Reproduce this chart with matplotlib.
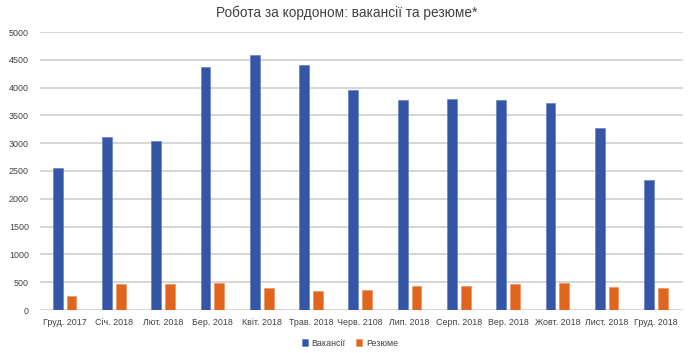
import matplotlib
matplotlib.use("Agg")
import matplotlib.pyplot as plt
import numpy as np

categories = ["Груд. 2017", "Січ. 2018", "Лют. 2018", "Бер. 2018", "Квіт. 2018", "Трав. 2018",
              "Черв. 2108", "Лип. 2018", "Серп. 2018", "Вер. 2018", "Жовт. 2018", "Лист. 2018", "Груд. 2018"]
vacancies = [2560, 3120, 3040, 4370, 4590, 4410, 3950, 3770, 3800, 3780, 3720, 3270, 2340]
resumes = [250, 468, 468, 485, 396, 340, 360, 430, 430, 468, 485, 410, 396]
yticks = [0, 500, 1000, 1500, 2000, 2500, 3000, 3500, 4000, 4500, 5000]

plt.rcParams['font.family'] = ['Liberation Sans', 'DejaVu Sans']

fig = plt.figure(figsize=(6.9, 3.53), dpi=100)
ax = fig.add_axes([40/690, 1-310/353, (683-40)/690, (310-32)/353])

x = np.arange(len(categories))
w = 0.2
blue = '#3556A6'
orange = '#E0661F'
ax.bar(x - 0.14, vacancies, w, color=blue, edgecolor='#5a78c0', linewidth=0.4, label='Вакансії', zorder=3)
ax.bar(x + 0.14, resumes, w, color=orange, edgecolor='#f08a4a', linewidth=0.4, label='Резюме', zorder=3)

ax.set_xlim(-0.5, len(categories) - 0.5 + 0.05)
ax.set_ylim(0, 5000)
ax.set_yticks(yticks)
ax.set_yticklabels([str(v) for v in yticks])
ax.set_xticks(x)
ax.set_xticklabels(categories)
ax.grid(axis='y', color='#d0d0d0', linewidth=1.2, zorder=0)
for s in ax.spines.values():
    s.set_visible(False)
ax.tick_params(axis='both', length=0, labelsize=6.4, colors='#404040')
ax.tick_params(axis='y', pad=8)
ax.tick_params(axis='x', pad=6)

fig.text(0.503, 1-13/353, 'Робота за кордоном: вакансії та резюме*', ha='center', va='center',
         fontsize=9.8, color='#404040')

leg = fig.legend(loc='center', bbox_to_anchor=(0.507, 1-343/353), ncol=2, frameon=False,
                 fontsize=6.4, handlelength=0.7, handleheight=0.7, handletextpad=0.4,
                 columnspacing=1.2, labelcolor='#404040')

fig.savefig('out.png', dpi=100)
